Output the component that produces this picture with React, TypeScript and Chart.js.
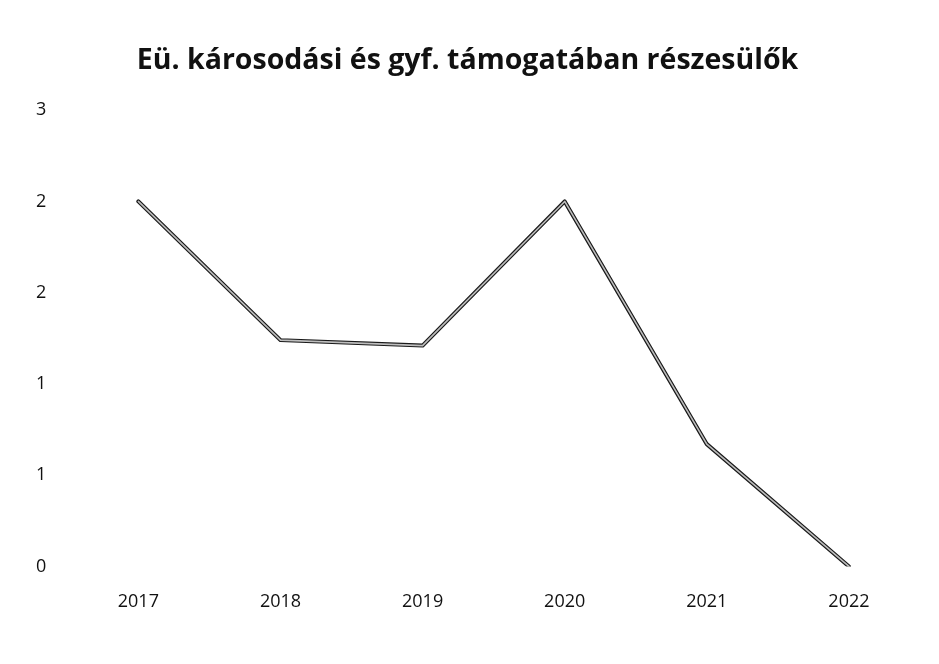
import React, { useEffect, useRef } from "react";
import { Chart, registerables } from "chart.js";

Chart.register(...registerables);

const years = ["2017", "2018", "2019", "2020", "2021", "2022"];
const values = [2.0, 1.24, 1.21, 2.0, 0.67, 0];
const chartTitle = "Eü. károsodási és gyf. támogatában részesülők";

const outlinePlugin = {
  id: "outlineLine",
  afterDatasetsDraw(chart: any) {
    const meta = chart.getDatasetMeta(0);
    const pts = meta.data;
    if (!pts || !pts.length) return;
    const ctx = chart.ctx;
    ctx.save();
    ctx.beginPath();
    pts.forEach((p: any, i: number) => {
      if (i === 0) ctx.moveTo(p.x, p.y);
      else ctx.lineTo(p.x, p.y);
    });
    ctx.lineJoin = "round";
    ctx.lineCap = "round";
    ctx.strokeStyle = "#bdbdbd";
    ctx.lineWidth = 1.6;
    ctx.stroke();
    ctx.restore();
  },
};

export default function App() {
  const ref = useRef<HTMLCanvasElement>(null);
  useEffect(() => {
    if (!ref.current) return;
    const chart = new Chart(ref.current, {
      type: "line",
      data: {
        labels: years,
        datasets: [
          {
            data: values,
            borderColor: "#1a1a1a",
            borderWidth: 4,
            pointRadius: 0,
            tension: 0,
            borderJoinStyle: "round",
            borderCapStyle: "round",
          },
        ],
      },
      options: {
        animation: false,
        responsive: false,
        maintainAspectRatio: false,
        layout: { padding: { left: 15, right: 19, top: 44, bottom: 26 } },
        plugins: {
          legend: { display: false },
          tooltip: { enabled: false },
          title: {
            display: true,
            text: chartTitle,
            color: "#111",
            font: { family: "'Open Sans', sans-serif", size: 28.5, weight: "bold" },
            padding: { top: 0, bottom: 32 },
          },
        },
        scales: {
          x: {
            offset: true,
            grid: { display: false, drawTicks: false },
            border: { display: false },
            ticks: {
              color: "#111",
              font: { family: "'Open Sans', sans-serif", size: 18 },
              padding: 25,
            },
          },
          y: {
            min: 0,
            max: 2.5,
            grid: { display: false, drawTicks: false },
            border: { display: false },
            ticks: {
              stepSize: 0.5,
              color: "#111",
              font: { family: "'Open Sans', sans-serif", size: 18 },
              padding: 21,
              callback: (v: any) => String(Math.round(Number(v))),
            },
          },
        },
      },
      plugins: [outlinePlugin],
    });
    return () => chart.destroy();
  }, []);
  return (
    <div style={{ position: "absolute", left: 0, top: 0, width: 939, height: 664, background: "#fff" }}>
      <canvas ref={ref} width={939} height={664} style={{ width: 939, height: 664 }} />
    </div>
  );
}
